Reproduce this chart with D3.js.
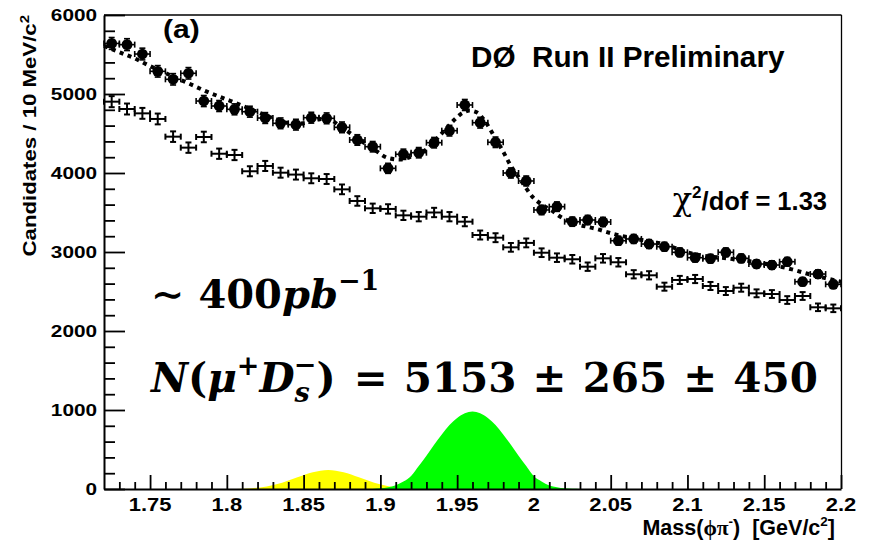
<!DOCTYPE html>
<html><head><meta charset="utf-8">
<script src="https://cdn.jsdelivr.net/npm/d3@7"></script>
<style>body{margin:0;background:#fff}svg{display:block}</style>
</head><body>
<svg id="c" width="876" height="543"></svg>
<script>
// ---------- data ----------
const massBins = [1.725,1.735,1.745,1.755,1.765,1.775,1.785,1.795,1.805,1.815,1.825,1.835,1.845,1.855,1.865,1.875,1.885,1.895,1.905,1.915,1.925,1.935,1.945,1.955,1.965,1.975,1.985,1.995,2.005,2.015,2.025,2.035,2.045,2.055,2.065,2.075,2.085,2.095,2.105,2.115,2.125,2.135,2.145,2.155,2.165,2.175,2.185,2.195];
const signalCounts = [5640,5625,5506,5287,5186,5262,4911,4848,4806,4776,4696,4629,4612,4700,4692,4578,4418,4333,4059,4237,4257,4384,4536,4861,4637,4389,4000,3899,3532,3574,3384,3405,3380,3143,3165,3101,3067,2996,2928,2915,2996,2920,2848,2835,2877,2624,2721,2591];
const sidebandCounts = [4903,4810,4755,4684,4460,4321,4456,4244,4228,4022,4089,4004,3980,3933,3924,3793,3646,3553,3545,3464,3447,3500,3447,3384,3215,3181,3059,3115,2991,2928,2908,2814,2920,2870,2718,2705,2561,2646,2658,2570,2506,2548,2477,2468,2392,2443,2300,2287];
const fitMass   = [1.720,1.730,1.740,1.750,1.760,1.775,1.787,1.798,1.809,1.819,1.830,1.843,1.850,1.858,1.865,1.874,1.885,1.895,1.905,1.913,1.922,1.930,1.939,1.948,1.953,1.958,1.963,1.968,1.974,1.980,1.985,1.991,2.000,2.006,2.012,2.017,2.028,2.041,2.052,2.067,2.082,2.104,2.128,2.147,2.168,2.180,2.193,2.200];
const fitValues = [5610,5530,5450,5354,5265,5135,5030,4945,4861,4780,4695,4625,4630,4672,4690,4590,4439,4312,4190,4170,4225,4300,4480,4670,4755,4790,4765,4660,4470,4270,4090,3920,3680,3590,3520,3450,3354,3291,3228,3165,3110,2975,2915,2865,2780,2715,2655,2625];
const dsMass   = [1.895,1.900,1.905,1.910,1.915,1.920,1.925,1.930,1.935,1.940,1.945,1.950,1.955,1.960,1.965,1.970,1.975,1.980,1.985,1.990,1.995,2.000,2.005,2.010,2.015,2.020,2.025,2.030];
const dsValues = [0,8,22,48,95,165,290,420,560,690,810,900,960,980,960,900,810,690,560,420,290,160,95,45,22,8,2,0];
const dpMass   = [1.806,1.816,1.826,1.836,1.846,1.856,1.866,1.876,1.886,1.896,1.906,1.916,1.926];
const dpValues = [0,11,33,80,148,212,242,212,148,80,33,11,0];
const xTicks = [1.75,1.8,1.85,1.9,1.95,2.0,2.05,2.1,2.15,2.2];
const xTickLabels = ["1.75","1.8","1.85","1.9","1.95","2","2.05","2.1","2.15","2.2"];
const yTicks = [0,1000,2000,3000,4000,5000,6000];
const yTickLabels = ["0","1000","2000","3000","4000","5000","6000"];

// ---------- layout ----------
const svg = d3.select("#c");
const x = d3.scaleLinear().domain([1.72, 2.2]).range([104, 841]);
const y = d3.scaleLinear().domain([0, 6000]).range([489, 15]);
const half = 0.005;
const SANS = "'Liberation Sans', Arial, Helvetica, sans-serif";
const SERIF = "'DejaVu Serif', serif";

// filled peaks
const area = d3.area().x(d => x(d[0])).y0(y(0)).y1(d => y(d[1])).curve(d3.curveMonotoneX);
svg.append("path").datum(dpMass.map((m,i)=>[m,dpValues[i]])).attr("d", area).attr("fill", "#ffff00");
svg.append("path").datum(dsMass.map((m,i)=>[m,dsValues[i]])).attr("d", area).attr("fill", "#00ff00");

// fit curve
const line = d3.line().x(d => x(d[0])).y(d => y(d[1])).curve(d3.curveMonotoneX);
svg.append("path").datum(fitMass.map((m,i)=>[m,fitValues[i]]))
  .attr("d", line).attr("fill","none").attr("stroke","#000")
  .attr("stroke-width",4).attr("stroke-dasharray","4,4.5");

// error-bar helper
function errBars(g, data, capH, capV, sw) {
  const s = g.selectAll("g").data(data).join("g").attr("stroke","#000").attr("stroke-width",sw);
  s.append("line").attr("x1",d=>x(d.m-half)).attr("x2",d=>x(d.m+half)).attr("y1",d=>y(d.v)).attr("y2",d=>y(d.v));
  s.append("line").attr("x1",d=>x(d.m-half)).attr("x2",d=>x(d.m-half)).attr("y1",d=>y(d.v)-capH).attr("y2",d=>y(d.v)+capH);
  s.append("line").attr("x1",d=>x(d.m+half)).attr("x2",d=>x(d.m+half)).attr("y1",d=>y(d.v)-capH).attr("y2",d=>y(d.v)+capH);
  s.append("line").attr("x1",d=>x(d.m)).attr("x2",d=>x(d.m)).attr("y1",d=>y(d.v-d.e)).attr("y2",d=>y(d.v+d.e));
  s.append("line").attr("x1",d=>x(d.m)-capV).attr("x2",d=>x(d.m)+capV).attr("y1",d=>y(d.v+d.e)).attr("y2",d=>y(d.v+d.e));
  s.append("line").attr("x1",d=>x(d.m)-capV).attr("x2",d=>x(d.m)+capV).attr("y1",d=>y(d.v-d.e)).attr("y2",d=>y(d.v-d.e));
  return s;
}
const sideData = massBins.map((m,i)=>({m, v:sidebandCounts[i], e:Math.sqrt(sidebandCounts[i])}));
const sigData  = massBins.map((m,i)=>({m, v:signalCounts[i],  e:Math.sqrt(signalCounts[i])}));
errBars(svg.append("g"), sideData, 3, 3, 2);
const sg = errBars(svg.append("g"), sigData, 3, 3, 1.6);
sg.append("circle").attr("cx",d=>x(d.m)).attr("cy",d=>y(d.v)).attr("r",5.4).attr("fill","#000").attr("stroke","none");

// frame
svg.append("line").attr("x1",104).attr("x2",841.5).attr("y1",15).attr("y2",15).attr("stroke","#000").attr("stroke-width",1.3);
svg.append("line").attr("x1",841.5).attr("x2",841.5).attr("y1",15).attr("y2",489).attr("stroke","#000").attr("stroke-width",1.3);

// axes
const yMinor = d3.range(0, 6001, 200).filter(v => v % 1000 !== 0);
const xMinor = d3.range(173, 220).map(v => v/100).filter(v => Math.round(v*100) % 5 !== 0);
function styleAxis(g){ g.selectAll("path").attr("stroke-width",2); g.selectAll("line").attr("stroke-width",1.8); g.selectAll("text").remove(); }
svg.append("g").attr("transform","translate(104,0)")
  .call(d3.axisLeft(y).tickValues(yTicks).tickSizeInner(-21).tickSizeOuter(0)).call(styleAxis);
svg.append("g").attr("transform","translate(104,0)")
  .call(d3.axisLeft(y).tickValues(yMinor).tickSizeInner(-11).tickSizeOuter(0)).call(styleAxis)
  .select(".domain").remove();
svg.append("g").attr("transform","translate(0,489)")
  .call(d3.axisBottom(x).tickValues(xTicks).tickSizeInner(-14).tickSizeOuter(0)).call(styleAxis);
svg.append("g").attr("transform","translate(0,489)")
  .call(d3.axisBottom(x).tickValues(xMinor).tickSizeInner(-7).tickSizeOuter(0)).call(styleAxis)
  .select(".domain").remove();

// tick labels (wide bold sans)
svg.append("g").selectAll("text").data(yTicks).join("text")
  .attr("transform", (d)=>`translate(97,${y(d)+6.2}) scale(1.2,1)`)
  .attr("text-anchor","end").attr("font-family",SANS).attr("font-weight","bold").attr("font-size",17.3)
  .text((d,i)=>yTickLabels[i]);
svg.append("g").selectAll("text").data(xTicks).join("text")
  .attr("transform", (d)=>`translate(${x(d)},${510.5}) scale(1.22,1)`)
  .attr("text-anchor","middle").attr("font-family",SANS).attr("font-weight","bold").attr("font-size",18)
  .text((d,i)=>xTickLabels[i]);

// axis titles
const yt = svg.append("text").attr("transform","translate(36,15) rotate(-90) scale(1.2,1)")
  .attr("text-anchor","end").attr("font-family",SANS).attr("font-weight","bold").attr("font-size",18.5);
yt.append("tspan").text("Candidates / 10 MeV/c");
yt.append("tspan").attr("font-size",12.5).attr("dy",-7.5).text("2");

const xt = svg.append("text").attr("x",835).attr("y",535).attr("text-anchor","end")
  .attr("font-family",SANS).attr("font-weight","bold").attr("font-size",21.5).style("white-space","pre");
xt.append("tspan").text("Mass(");
xt.append("tspan").attr("font-family","'Liberation Serif', serif").text("ϕπ");
xt.append("tspan").attr("font-size",13.5).attr("dy",-9).text("-");
xt.append("tspan").attr("dy",9).text(")  [GeV/c");
xt.append("tspan").attr("font-size",13.5).attr("dy",-9).text("2");
xt.append("tspan").attr("dy",9).text("]");

// labels
svg.append("text").attr("transform","translate(163,38) scale(1.2,1)")
  .attr("font-family",SANS).attr("font-weight","bold").attr("font-size",25).text("(a)");
svg.append("text").attr("x",471).attr("y",66.5).style("white-space","pre")
  .attr("font-family",SANS).attr("font-weight","bold").attr("font-size",29.7).text("DØ  Run II Preliminary");

const chi = svg.append("text").attr("x",827).attr("y",210).attr("text-anchor","end")
  .attr("font-family",SANS).attr("font-weight","bold").attr("font-size",25.5);
chi.append("tspan").attr("font-family","'DejaVu Serif', serif").attr("font-weight","normal").attr("font-size",32).text("χ");
chi.append("tspan").attr("font-size",17).attr("dy",-12).text("2");
chi.append("tspan").attr("dy",12).text("/dof = 1.33");

// big math labels
const t1 = svg.append("text").attr("x",151).attr("y",308).style("white-space","pre")
  .attr("font-family",SERIF).attr("font-weight","bold").attr("font-size",40);
t1.append("tspan").text("∼ 400");
t1.append("tspan").attr("font-style","italic").text("pb");
t1.append("tspan").attr("font-size",27).attr("dy",-18).text("−1");

const t2 = svg.append("text").attr("x",151).attr("y",392).style("white-space","pre")
  .attr("font-family",SERIF).attr("font-weight","bold").attr("font-size",40.5);
t2.append("tspan").attr("font-style","italic").text("N");
t2.append("tspan").text("(");
t2.append("tspan").attr("font-style","italic").text("μ");
t2.append("tspan").attr("font-size",27).attr("dy",-17).text("+");
t2.append("tspan").attr("dy",17).attr("font-style","italic").text("D");
t2.append("tspan").attr("font-size",27).attr("dy",10).attr("font-style","italic").text("s");
t2.append("tspan").attr("font-size",27).attr("dx",-16).attr("dy",-28).text("−");
t2.append("tspan").attr("dy",18).text(")");
t2.append("tspan").attr("dx",4).text(" = ");
t2.append("tspan").attr("dx",2).text("5153");
t2.append("tspan").attr("dx",2).text(" ± ");
t2.append("tspan").attr("dx",2).text("265");
t2.append("tspan").attr("dx",2).text(" ± ");
t2.append("tspan").attr("dx",2).text("450");
</script>
</body></html>
